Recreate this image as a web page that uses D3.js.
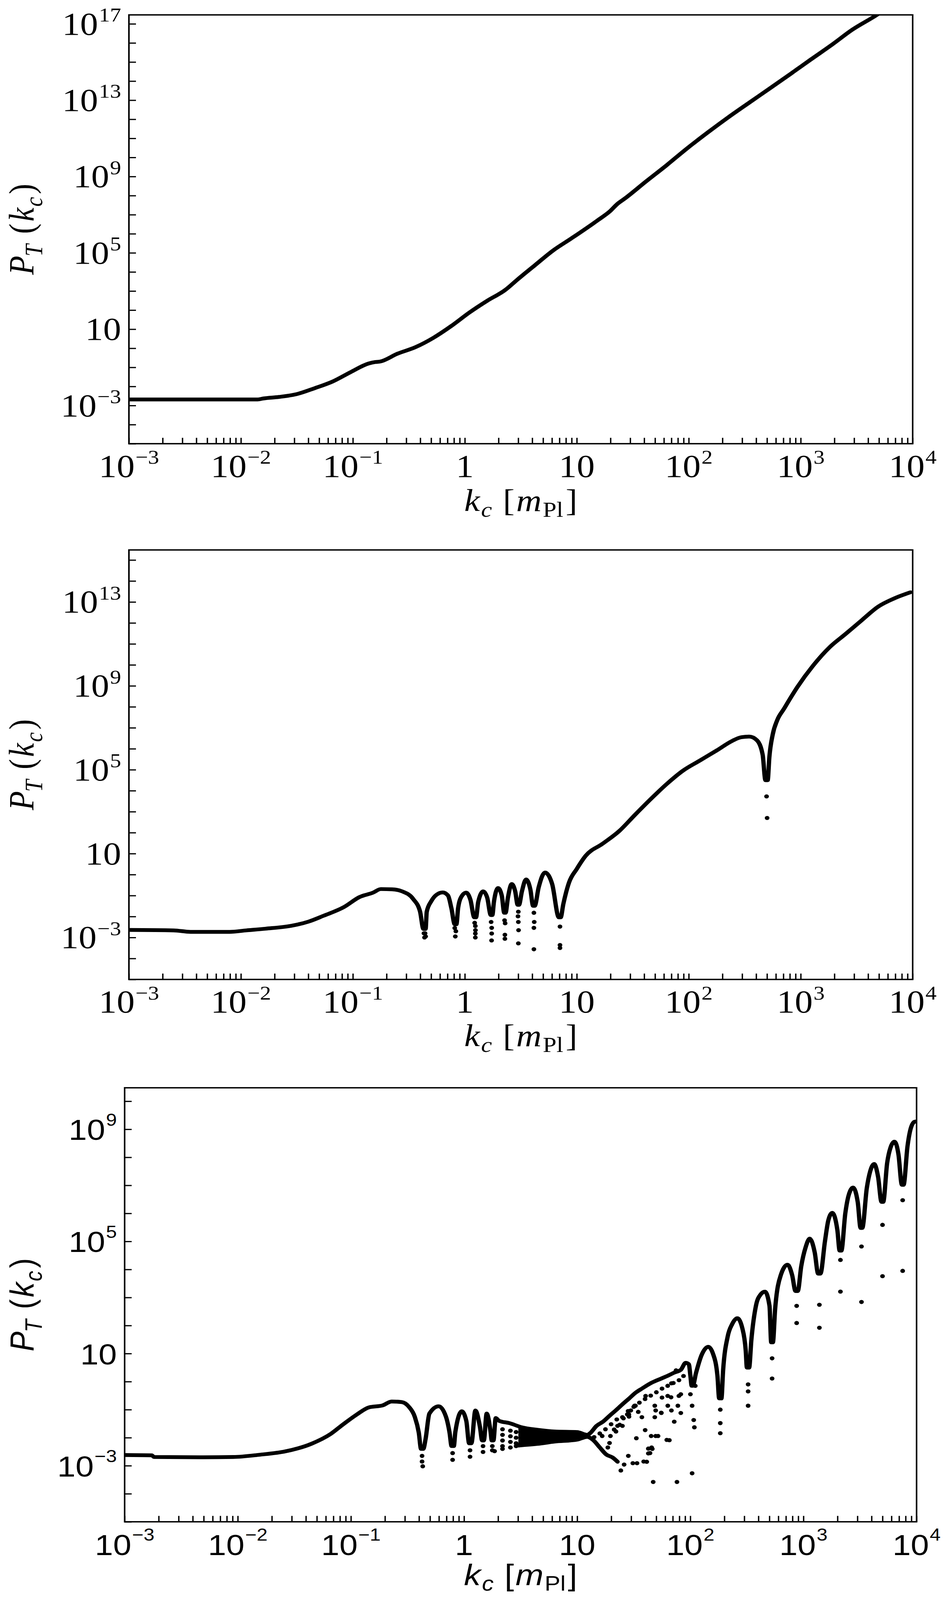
<!DOCTYPE html>
<html>
<head>
<meta charset="utf-8">
<script src="https://cdn.jsdelivr.net/npm/d3@7"></script>
<style>
  html, body { margin: 0; padding: 0; background: #fff; overflow: hidden; }
  svg { display: block; }
</style>
</head>
<body>
<svg id="chart"></svg>
<script>
// values, stored as [log10 k, log10 P]
const p1Curve = [
  [-3.0, -2.68], [-1.85, -2.68], [-1.80, -2.63], [-1.66, -2.55], [-1.50, -2.40], [-1.34, -2.09],
  [-1.18, -1.74], [-1.02, -1.25], [-0.86, -0.80], [-0.80, -0.72], [-0.76, -0.70], [-0.60, -0.28],
  [-0.44, 0.06], [-0.28, 0.55], [-0.12, 1.17], [0.04, 1.87], [0.20, 2.49], [0.36, 3.05],
  [0.47, 3.60], [0.63, 4.37], [0.79, 5.13], [0.95, 5.75], [1.19, 6.72], [1.30, 7.20],
  [1.36, 7.55], [1.43, 7.85], [1.62, 8.75], [1.80, 9.58], [1.98, 10.45], [2.17, 11.31],
  [2.35, 12.09], [2.54, 12.87], [2.72, 13.60], [2.91, 14.38], [3.09, 15.13], [3.28, 15.91],
  [3.46, 16.69], [3.68, 17.47], [3.75, 17.75]
];

const p2Curve = [
  [-3.0, -2.64], [-2.6, -2.66], [-2.45, -2.73], [-2.1, -2.73], [-1.95, -2.66], [-1.78, -2.58],
  [-1.55, -2.44], [-1.40, -2.25], [-1.26, -1.96], [-1.08, -1.55], [-0.94, -1.07], [-0.82, -0.86],
  [-0.75, -0.69], [-0.65, -0.70], [-0.56, -0.80], [-0.46, -1.17], [-0.40, -1.76], [-0.37, -2.59],
  [-0.35, -2.59], [-0.34, -1.77], [-0.30, -1.27], [-0.25, -0.95], [-0.197, -0.85], [-0.15, -1.0],
  [-0.12, -1.60], [-0.09, -2.37], [-0.075, -2.37], [-0.06, -1.6], [-0.03, -1.05], [0.012, -0.86],
  [0.05, -1.2], [0.085, -2.04], [0.10, -2.04], [0.12, -1.3], [0.164, -0.80], [0.20, -1.1],
  [0.232, -1.93], [0.246, -1.93], [0.26, -1.3], [0.297, -0.64], [0.33, -1.0], [0.352, -1.82],
  [0.364, -1.82], [0.385, -1.1], [0.419, -0.45], [0.45, -0.8], [0.472, -1.44], [0.484, -1.44],
  [0.51, -0.8], [0.547, -0.23], [0.585, -0.7], [0.610, -1.49], [0.624, -1.49], [0.66, -0.6],
  [0.716, 0.10], [0.78, -0.45], [0.84, -2.04], [0.856, -2.04], [0.88, -1.4], [0.93, -0.39],
  [1.0, 0.27], [1.08, 0.90], [1.23, 1.47], [1.38, 2.08], [1.52, 2.85], [1.67, 3.65],
  [1.81, 4.35], [1.95, 4.96], [2.10, 5.44], [2.25, 5.92], [2.39, 6.38], [2.47, 6.55],
  [2.54, 6.58], [2.61, 6.4], [2.66, 5.72], [2.685, 4.5], [2.705, 4.5], [2.72, 5.6],
  [2.75, 6.68], [2.79, 7.36], [2.85, 7.9], [2.97, 8.94], [3.11, 9.96], [3.26, 10.85],
  [3.40, 11.47], [3.55, 12.15], [3.69, 12.77], [3.84, 13.18], [3.98, 13.46]
];

// sparse points at the bottom of the dips
const p2Dots = [
  [-0.365, -2.8], [-0.355, -2.8], [-0.36, -3.0], [-0.35, -2.95],
  [-0.09, -2.55], [-0.08, -2.7], [-0.085, -2.95],
  [0.088, -2.3], [0.094, -2.45], [0.095, -2.65], [0.094, -2.81], [0.094, -3.0],
  [0.235, -2.26], [0.24, -2.54], [0.24, -2.81], [0.239, -3.14],
  [0.355, -2.18], [0.36, -2.32], [0.358, -2.87], [0.358, -3.06],
  [0.478, -1.77], [0.475, -1.99], [0.478, -2.26], [0.48, -2.65], [0.478, -3.28],
  [0.617, -1.82], [0.62, -2.26], [0.617, -2.54], [0.617, -3.56],
  [0.85, -2.48], [0.85, -3.36], [0.85, -3.5],
  [2.695, 3.73], [2.70, 2.70]
];

const p3Curve = [
  [-3.0, -2.62], [-2.76, -2.63], [-2.74, -2.69], [-2.3, -2.70], [-2.04, -2.69], [-1.81, -2.61],
  [-1.58, -2.49], [-1.35, -2.22], [-1.18, -1.87], [-1.07, -1.53], [-0.95, -1.18], [-0.84, -0.92],
  [-0.72, -0.85], [-0.64, -0.71], [-0.55, -0.73], [-0.485, -0.91], [-0.436, -1.25], [-0.40, -1.82],
  [-0.38, -2.4], [-0.36, -2.4], [-0.34, -2.05], [-0.306, -1.14], [-0.224, -0.88], [-0.16, -1.25],
  [-0.128, -1.82], [-0.11, -2.3], [-0.09, -2.3], [-0.077, -1.8], [-0.02, -1.06], [0.02, -1.4],
  [0.045, -2.2], [0.065, -2.2], [0.10, -1.03], [0.14, -1.6], [0.16, -2.1], [0.175, -2.1],
  [0.20, -1.14], [0.235, -1.8], [0.245, -2.1], [0.26, -2.1], [0.28, -1.3], [0.31, -1.4],
  [0.40, -1.48], [0.51, -1.63], [0.65, -1.72], [0.80, -1.78], [1.0, -1.80], [1.09, -1.90],
  [1.114, -1.84], [1.171, -1.58], [1.228, -1.43], [1.286, -1.22], [1.343, -1.02], [1.400, -0.81],
  [1.457, -0.61], [1.515, -0.40], [1.572, -0.25], [1.658, -0.04], [1.744, 0.11], [1.801, 0.21],
  [1.858, 0.32], [1.916, 0.42], [1.959, 0.67], [1.987, 0.62], [2.001, 0.2], [2.012, -0.15],
  [2.022, -0.15], [2.05, 0.3], [2.10, 0.95], [2.159, 1.24], [2.20, 1.0], [2.24, 0.2],
  [2.255, -0.6], [2.275, -0.6], [2.29, 0.4], [2.33, 1.6], [2.37, 2.05], [2.416, 2.26],
  [2.46, 1.9], [2.49, 1.1], [2.50, 0.5], [2.52, 0.5], [2.54, 1.5], [2.58, 2.7],
  [2.62, 3.1], [2.66, 3.21], [2.70, 2.7], [2.715, 1.4], [2.73, 1.4], [2.75, 2.6],
  [2.80, 3.8], [2.86, 4.17], [2.90, 3.8], [2.93, 3.23], [2.95, 3.23], [2.98, 4.1],
  [3.02, 4.8], [3.055, 5.10], [3.10, 4.6], [3.13, 3.85], [3.15, 3.85], [3.19, 5.0],
  [3.22, 5.75], [3.255, 6.02], [3.30, 5.4], [3.32, 4.67], [3.335, 4.67], [3.37, 6.0],
  [3.40, 6.65], [3.439, 6.92], [3.48, 6.4], [3.505, 5.48], [3.52, 5.48], [3.56, 6.9],
  [3.59, 7.5], [3.625, 7.76], [3.66, 7.3], [3.69, 6.41], [3.705, 6.41], [3.74, 7.8],
  [3.77, 8.35], [3.805, 8.56], [3.84, 8.1], [3.87, 7.02], [3.885, 7.02], [3.92, 8.4],
  [3.95, 9.05], [3.983, 9.27], [4.0, 9.28]
];

// lower edge of the crowded band between ~3 and ~20
const p3Lower = [
  [0.48, -2.28], [0.65, -2.22], [0.80, -2.14], [1.0, -2.07], [1.09, -1.97], [1.143, -2.09],
  [1.20, -2.35], [1.257, -2.60], [1.314, -2.71], [1.357, -2.86]
];

// [log10 k, low, high] of the filled band
const p3Band = [
  [0.48, -2.28, -1.62], [0.55, -2.28, -1.66], [0.65, -2.22, -1.72], [0.80, -2.14, -1.78],
  [1.0, -2.07, -1.80], [1.09, -1.97, -1.90]
];

const p3Dots = [
  [-0.371, -2.65], [-0.371, -2.85], [-0.365, -3.02], [-0.101, -2.55], [-0.101, -2.79],
  [0.053, -2.45], [0.053, -2.68], [0.168, -2.3], [0.168, -2.51], [0.25, -2.3], [0.25, -2.45],
  [0.27, -2.48],
  [0.34, -1.7], [0.34, -1.9], [0.34, -2.1], [0.34, -2.3], [0.34, -2.40],
  [0.41, -1.75], [0.41, -1.95], [0.41, -2.15], [0.41, -2.35],
  [0.46, -1.8], [0.46, -2.0], [0.46, -2.2], [0.46, -2.3],
  [1.400, -1.58], [1.457, -1.17], [1.515, -0.86], [1.572, -1.27], [1.601, -1.73], [1.658, -2.35],
  [1.686, -0.86], [1.686, -1.27], [1.715, -1.94], [1.744, -1.12], [1.801, -0.86], [1.815, -2.09],
  [1.830, -0.56], [1.858, -1.43], [1.916, -1.12], [1.916, -0.45], [2.001, -0.45], [2.016, -0.86],
  [2.030, -1.37], [2.036, -1.63], [2.044, -0.15], [2.007, 0.06], [1.343, -1.78], [1.357, -1.58],
  [1.400, -1.27], [1.443, -1.17], [1.286, -2.19], [1.271, -2.35],
  [1.386, -3.17], [1.415, -2.96], [1.452, -2.65], [1.492, -2.91], [1.529, -2.91], [1.588, -2.85],
  [1.615, -2.86], [1.644, -2.55], [1.664, -2.40], [1.672, -3.58], [1.882, -3.58], [2.016, -3.27],
  [1.523, -2.02], [1.474, -1.03], [1.54, -1.08], [1.654, -1.94], [1.629, -2.39], [1.629, -2.56],
  [1.694, -1.03], [1.694, -1.94], [1.792, -2.08], [1.80, -0.51], [1.89, -0.86], [1.221, -1.94],
  [1.294, -1.94], [1.327, -1.71], [1.376, -1.54], [1.409, -1.31], [1.458, -1.25], [1.507, -0.86],
  [1.605, -0.51], [1.743, -1.11], [1.75, -0.57], [1.833, -0.06], [1.833, -1.03], [1.874, 0.40],
  [1.899, -0.51],
  [1.15, -1.98], [1.20, -1.85], [1.25, -1.70], [1.30, -1.52], [1.35, -1.35], [1.45, -1.05],
  [1.50, -0.90], [1.55, -0.75], [1.60, -0.62], [1.65, -0.50], [1.70, -0.38], [1.75, -0.25],
  [1.80, -0.15], [1.85, -0.05], [1.90, 0.05], [1.94, 0.20],
  [2.265, -1.0], [2.265, -1.48], [2.265, -1.84], [2.511, -0.1], [2.511, -0.35], [2.511, -0.86],
  [2.723, 0.83], [2.723, 0.11], [2.94, 2.70], [2.94, 2.09], [3.141, 2.74], [3.141, 1.92],
  [3.327, 4.34], [3.327, 3.21], [3.513, 4.82], [3.513, 2.84], [3.699, 5.59], [3.699, 3.76],
  [3.877, 6.47], [3.877, 3.95]
];

// tick label exponents
const xLabelExps = [-3, -2, -1, 0, 1, 2, 3, 4];
const p1YLabelExps = [-3, 1, 5, 9, 13, 17];
const p2YLabelExps = [-3, 1, 5, 9, 13];
const p3YLabelExps = [-3, 1, 5, 9];

const W = 2429, H = 4623;

const serif = { family: "'Liberation Serif', 'DejaVu Serif', serif", tick: 92, sup: 57, raise: 38, label: 90 };
const sans = { family: "'Liberation Sans', Arial, sans-serif", tick: 84, sup: 50, raise: 41, label: 86 };

const panels = [
  { curve: p1Curve, dots: [], left: 330, right: 2336, top: 43, bottom: 1282, yTopExp: 17.47,
    yLabels: p1YLabelExps, font: serif, r: 6, sw: 11, yTitleX: 86, xTitleY: 1476 },
  { curve: p2Curve, dots: p2Dots, left: 330, right: 2336, top: 1589, bottom: 2830, yTopExp: 15.48,
    yLabels: p2YLabelExps, font: serif, r: 6, sw: 11, yTitleX: 86, xTitleY: 3022 },
  { curve: p3Curve, dots: p3Dots, lower: p3Lower, band: p3Band, left: 319, right: 2346, top: 3143,
    bottom: 4397, yTopExp: 10.48, yLabels: p3YLabelExps, font: sans, r: 6, sw: 11, yTitleX: 86,
    xTitleY: 4580 }
];

// the window may be shorter than the figure: stretch the whole figure into it
const vw = window.innerWidth || W;
const vh = window.innerHeight || H;
const svg = d3
  .select("#chart")
  .attr("width", vw)
  .attr("height", vh)
  .attr("viewBox", `0 0 ${W} ${H}`)
  .attr("preserveAspectRatio", "none");
svg.append("rect").attr("width", W).attr("height", H).attr("fill", "#fff");

// write a run of mixed italic / sub / sup pieces into a text node
function addRuns(text, runs, size, subShift = 0.24) {
  let shift = 0;
  runs.forEach((r) => {
    let target = 0;
    if (r.sub) target = size * subShift;
    if (r.sup) target = -r.sup;
    const ts = text
      .append("tspan")
      .text(r.t)
      .attr("font-style", r.it ? "italic" : "normal")
      .attr("font-size", r.size || (r.sub ? size * 0.7 : size))
      .attr("dy", target - shift);
    if (r.dx) ts.attr("dx", r.dx);
    shift = target;
  });
}

function powerRuns(e, font) {
  if (e === 0) return [{ t: "1" }];
  if (e === 1) return [{ t: "10" }];
  const s = e < 0 ? "\u2212" + -e : String(e);
  return [{ t: "10" }, { t: s, sup: font.raise, size: font.sup, dx: 2 }];
}

function drawPanel(cfg, i) {
  const x = d3.scaleLog().domain([1e-3, 1e4]).range([cfg.left, cfg.right]);
  const y = d3.scaleLog().domain([1e-5, 10 ** cfg.yTopExp]).range([cfg.bottom, cfg.top]);
  const font = cfg.font;
  const g = svg.append("g");

  svg
    .append("clipPath")
    .attr("id", "clip" + i)
    .append("rect")
    .attr("x", cfg.left)
    .attr("y", cfg.top)
    .attr("width", cfg.right - cfg.left)
    .attr("height", cfg.bottom - cfg.top);

  const plot = g.append("g").attr("clip-path", `url(#clip${i})`);
  const px = (d) => x(10 ** d[0]);
  const py = (d) => y(10 ** d[1]);

  if (cfg.band) {
    const area = d3
      .area()
      .x(px)
      .y0((d) => y(10 ** d[1]))
      .y1((d) => y(10 ** d[2]))
      .curve(d3.curveMonotoneX);
    plot.append("path").datum(cfg.band).attr("d", area).attr("fill", "#000");
  }

  const line = d3.line().x(px).y(py).curve(d3.curveMonotoneX);
  const strokes = [cfg.curve];
  if (cfg.lower) strokes.push(cfg.lower);
  strokes.forEach((s) => {
    plot
      .append("path")
      .datum(s)
      .attr("d", line)
      .attr("fill", "none")
      .attr("stroke", "#000")
      .attr("stroke-width", cfg.sw)
      .attr("stroke-linecap", "round")
      .attr("stroke-linejoin", "round");
  });

  plot
    .selectAll("circle")
    .data(cfg.dots)
    .join("circle")
    .attr("cx", px)
    .attr("cy", py)
    .attr("r", cfg.r)
    .attr("fill", "#000");

  // ticks: every decade on y, 1..9 on x, pointing inward
  const xTicks = [];
  for (let e = -3; e < 4; e++) for (let m = 1; m < 10; m++) xTicks.push(m * 10 ** e);
  xTicks.push(1e4);
  const yTicks = d3.range(-5, Math.floor(cfg.yTopExp) + 1).map((e) => 10 ** e);

  g.append("g")
    .attr("transform", `translate(0,${cfg.bottom})`)
    .call(d3.axisBottom(x).tickValues(xTicks).tickSize(-17).tickFormat(""))
    .call((a) => a.select(".domain").remove())
    .selectAll("line")
    .attr("stroke", "#000")
    .attr("stroke-width", 3.5);

  g.append("g")
    .attr("transform", `translate(${cfg.left},0)`)
    .call(d3.axisLeft(y).tickValues(yTicks).tickSize(-18).tickFormat(""))
    .call((a) => a.select(".domain").remove())
    .selectAll("line")
    .attr("stroke", "#000")
    .attr("stroke-width", 3.5);

  g.append("rect")
    .attr("x", cfg.left)
    .attr("y", cfg.top)
    .attr("width", cfg.right - cfg.left)
    .attr("height", cfg.bottom - cfg.top)
    .attr("fill", "none")
    .attr("stroke", "#000")
    .attr("stroke-width", 4);

  // tick labels
  xLabelExps.forEach((e) => {
    const t = g
      .append("text")
      .attr("x", x(10 ** e))
      .attr("y", cfg.bottom + 96)
      .attr("text-anchor", "middle")
      .attr("font-family", font.family)
      .attr("font-size", font.tick)
      .attr("fill", "#000");
    addRuns(t, powerRuns(e, font), font.tick);
  });

  cfg.yLabels.forEach((e) => {
    const t = g
      .append("text")
      .attr("x", cfg.left - 20)
      .attr("y", y(10 ** e) + 31)
      .attr("text-anchor", "end")
      .attr("font-family", font.family)
      .attr("font-size", font.tick)
      .attr("fill", "#000");
    addRuns(t, powerRuns(e, font), font.tick);
  });

  // axis titles
  const yt = g
    .append("text")
    .attr("transform", `translate(${cfg.yTitleX},${(cfg.top + cfg.bottom) / 2}) rotate(-90)`)
    .attr("text-anchor", "middle")
    .attr("font-family", font.family)
    .attr("font-size", font.label)
    .attr("fill", "#000");
  addRuns(
    yt,
    [
      { t: "P", it: true },
      { t: "T", it: true, sub: true, dx: -2 },
      { t: "(", dx: 30 },
      { t: "k", it: true, dx: 6 },
      { t: "c", it: true, sub: true, dx: 3 },
      { t: ")", dx: 8 }
    ],
    font.label
  );

  const xt = g
    .append("text")
    .attr("x", (cfg.left + cfg.right) / 2)
    .attr("y", cfg.xTitleY)
    .attr("text-anchor", "middle")
    .attr("font-family", font.family)
    .attr("font-size", font.label)
    .attr("fill", "#000");
  addRuns(
    xt,
    [
      { t: "k", it: true },
      { t: "c", it: true, sub: true, dx: 3 },
      { t: "[", dx: 28 },
      { t: "m", it: true, dx: 4 },
      { t: "Pl", sub: true, dx: 3 },
      { t: "]", dx: 6 }
    ],
    font.label,
    0.19
  );
}

panels.forEach(drawPanel);
</script>
</body>
</html>
